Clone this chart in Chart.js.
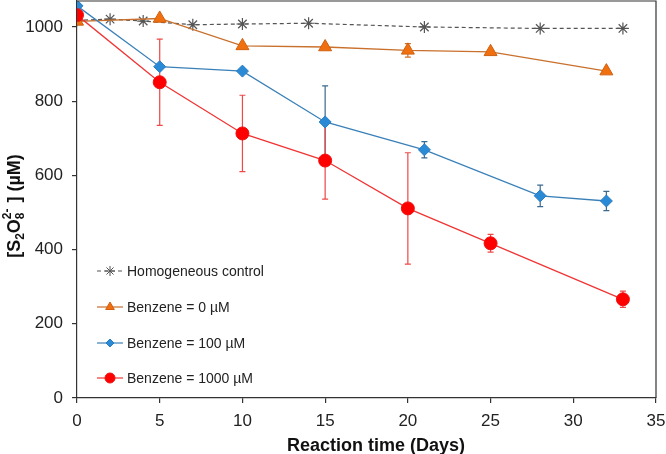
<!DOCTYPE html>
<html>
<head>
<meta charset="utf-8">
<script src="https://cdn.jsdelivr.net/npm/chart.js@4/dist/chart.umd.min.js"></script>
<style>
  body { margin: 0; background: #fff; }
  canvas { display: block; }
</style>
</head>
<body>
<canvas id="chart" width="666" height="454"></canvas>
<script>
// data
const controlDays = [0, 2, 4, 7, 10, 14, 21, 28, 33];
const controlValues = [1018, 1021, 1016, 1006, 1008, 1010, 1000, 996, 996];

const b0Days = [0, 5, 10, 15, 20, 25, 32];
const b0Values = [1015, 1023, 949, 946, 937, 933, 881];
const b0Err = [0, 0, 5, 5, 18, 0, 0];

const b100Days = [0, 5, 10, 15, 21, 28, 32];
const b100Values = [1057, 893, 881, 744, 669, 545, 531];
const b100Err = [0, 0, 0, 97, 22, 29, 26];

const b1000Days = [0, 5, 10, 15, 20, 25, 33];
const b1000Values = [1032, 851, 713, 640, 511, 417, 266];
const b1000Err = [0, 116, 103, 104, 150, 24, 22];

const xTicks = [0, 5, 10, 15, 20, 25, 30, 35];
const yTicks = [0, 200, 400, 600, 800, 1000];

const FONT = '"Liberation Sans", Arial, sans-serif';
const pts = (xs, ys) => xs.map((x, i) => ({ x: x, y: ys[i] }));

// vertical error bars with caps
const errorBars = {
  id: 'errorBars',
  beforeDatasetsDraw(chart) {
    const ctx = chart.ctx;
    const ys = chart.scales.y;
    chart.data.datasets.forEach((ds, di) => {
      if (!ds.errors) return;
      const meta = chart.getDatasetMeta(di);
      ctx.save();
      ctx.strokeStyle = ds.errorColor;
      ctx.lineWidth = 1.2;
      ds.data.forEach((p, i) => {
        const e = ds.errors[i];
        if (!e) return;
        const x = meta.data[i].x;
        const top = ys.getPixelForValue(p.y + e);
        const bot = ys.getPixelForValue(p.y - e);
        ctx.beginPath();
        ctx.moveTo(x, top); ctx.lineTo(x, bot);
        ctx.moveTo(x - 3, top); ctx.lineTo(x + 3, top);
        ctx.moveTo(x - 3, bot); ctx.lineTo(x + 3, bot);
        ctx.stroke();
      });
      ctx.restore();
    });
  }
};

// frame, axis titles, legend
const decor = {
  id: 'decor',
  afterDraw(chart) {
    const ctx = chart.ctx;
    const a = chart.chartArea;
    ctx.save();
    ctx.strokeStyle = '#333';
    ctx.lineWidth = 1.2;
    ctx.beginPath();
    ctx.moveTo(a.left, a.top); ctx.lineTo(a.right, a.top); ctx.lineTo(a.right, a.bottom);
    ctx.stroke();

    // x title
    ctx.fillStyle = '#111';
    ctx.font = 'bold 18px ' + FONT;
    ctx.textAlign = 'center';
    ctx.textBaseline = 'alphabetic';
    ctx.fillText('Reaction time (Days)', 376, 451);

    // y title with sub/superscripts
    const big = 'bold 18px ' + FONT, small = 'bold 12px ' + FONT;
    const parts = [
      ['[S', big, 0], ['2', small, 4], ['O', big, 0], ['8', small, 4], ['2-', small, -9, true], ['  ] (\u00b5M)', big, 0]
    ];
    let w = 0;
    const widths = parts.map(p => { ctx.font = p[1]; return ctx.measureText(p[0]).width; });
    parts.forEach((p, i) => { if (!p[3]) w += widths[i]; });
    ctx.translate(20, 206);
    ctx.rotate(-Math.PI / 2);
    ctx.textAlign = 'left';
    let cx = -w / 2, lastX = cx;
    parts.forEach((p, i) => {
      ctx.font = p[1];
      if (p[3]) {
        ctx.fillText(p[0], lastX, p[2]);
      } else {
        lastX = cx;
        ctx.fillText(p[0], cx, p[2]);
        cx += widths[i];
      }
    });
    ctx.restore();

    // legend
    const rows = [271, 307, 343, 378];
    ctx.save();
    chart.data.datasets.forEach((ds, r) => {
      const y = rows[r];
      ctx.strokeStyle = ds.borderColor;
      ctx.lineWidth = 1.2;
      ctx.setLineDash(ds.borderDash || []);
      ctx.beginPath();
      ctx.moveTo(97, y); ctx.lineTo(123, y);
      ctx.stroke();
      ctx.setLineDash([]);
      ctx.fillStyle = ds.pointBackgroundColor;
      ctx.strokeStyle = ds.pointBorderColor;
      ctx.lineWidth = 1;
      Chart.helpers.drawPoint(ctx, {
        pointStyle: ds.pointStyle, radius: ds.legendRadius, rotation: 0, borderWidth: 1
      }, 110, y);
      ctx.fillStyle = '#222';
      ctx.font = '14px ' + FONT;
      ctx.textAlign = 'left';
      ctx.textBaseline = 'middle';
      ctx.fillText(ds.label, 127, y + 1);
    });
    ctx.restore();
  }
};

new Chart(document.getElementById('chart'), {
  type: 'line',
  data: {
    datasets: [
      {
        label: 'Homogeneous control',
        data: pts(controlDays, controlValues),
        borderColor: '#555', borderWidth: 1.2, borderDash: [4, 3],
        pointStyle: 'star', pointRadius: 6, legendRadius: 5,
        pointBackgroundColor: '#555', pointBorderColor: '#555', pointBorderWidth: 1.2,
        order: 3
      },
      {
        label: 'Benzene = 0 \u00b5M',
        data: pts(b0Days, b0Values), errors: b0Err, errorColor: '#c8702c',
        borderColor: '#c8702c', borderWidth: 1.4,
        pointStyle: 'triangle', pointRadius: 7.5, legendRadius: 5,
        pointBackgroundColor: '#f07010', pointBorderColor: '#d06010', pointBorderWidth: 1,
        order: 2
      },
      {
        label: 'Benzene = 100 \u00b5M',
        data: pts(b100Days, b100Values), errors: b100Err, errorColor: '#3a6a90',
        borderColor: '#3a80b8', borderWidth: 1.3,
        pointStyle: 'rectRot', pointRadius: 6, legendRadius: 4,
        pointBackgroundColor: '#2a8ad6', pointBorderColor: '#2a7cc0', pointBorderWidth: 1,
        order: 1
      },
      {
        label: 'Benzene = 1000 \u00b5M',
        data: pts(b1000Days, b1000Values), errors: b1000Err, errorColor: '#ee4848',
        borderColor: '#f03434', borderWidth: 1.3,
        pointStyle: 'circle', pointRadius: 6.5, legendRadius: 5,
        pointBackgroundColor: '#ff0000', pointBorderColor: '#f01010', pointBorderWidth: 1,
        order: 0
      }
    ]
  },
  options: {
    responsive: false,
    animation: false,
    devicePixelRatio: 1,
    layout: { autoPadding: false, padding: { left: 0, right: 10, top: 1, bottom: 0 } },
    plugins: { legend: { display: false }, tooltip: { enabled: false } },
    scales: {
      x: {
        type: 'linear', min: 0, max: 35,
        afterBuildTicks: s => { s.ticks = xTicks.map(v => ({ value: v })); },
        afterFit: s => { s.height = 56; s.paddingLeft = 0; s.paddingRight = 0; },
        grid: { drawOnChartArea: false, tickLength: 5, color: '#333', lineWidth: 1.2 },
        border: { color: '#333', width: 1.2 },
        ticks: { font: { size: 17, family: FONT }, color: '#222', padding: 8, maxRotation: 0, callback: v => String(v) }
      },
      y: {
        min: 0, max: 1070,
        afterBuildTicks: s => { s.ticks = yTicks.map(v => ({ value: v })); },
        afterFit: s => { s.width = 77; s.paddingTop = 0; s.paddingBottom = 0; },
        grid: { drawOnChartArea: false, tickLength: 5, color: '#333', lineWidth: 1.2 },
        border: { color: '#333', width: 1.2 },
        ticks: { font: { size: 17, family: FONT }, color: '#222', padding: 9, callback: v => String(v) }
      }
    }
  },
  plugins: [errorBars, decor]
});
</script>
</body>
</html>
